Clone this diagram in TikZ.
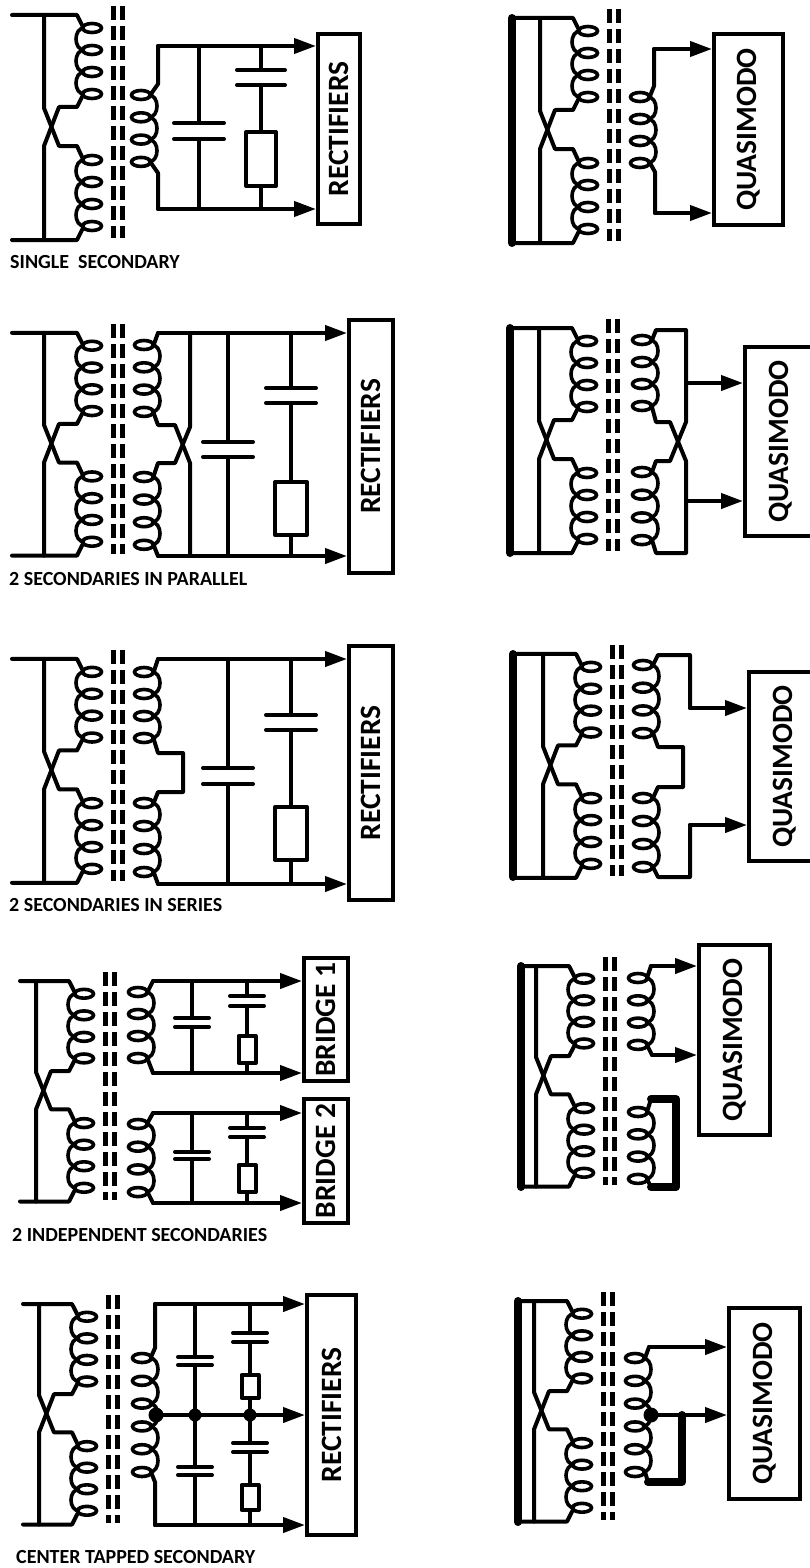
\documentclass[tikz,border=0pt]{standalone}
\usepackage{graphicx}
\usepackage{fontspec}
\setmainfont{Carlito}
\usepackage{tikz}
\usetikzlibrary{calc}
\usetikzlibrary{arrows.meta}

\newcommand{\coil}[5]{
  \foreach \i in {1,...,#4}{
    \draw[turn] (#1,{#2+(\i-1)*#3}) ellipse [x radius=9.5pt,y radius=4.5pt];
  }
  \foreach \i in {2,...,#4}{
    \draw[turn] ({#1+#5*7},{#2+(\i-2)*#3}) .. controls ({#1+#5*19},{#2+(\i-2)*#3-1}) and ({#1+#5*19},{#2+(\i-1)*#3+1}) .. ({#1+#5*7},{#2+(\i-1)*#3});
  }
}
\newcommand{\primary}[4]{
  \begin{scope}[shift={(#1,#2)},yscale=#3]
    \coil{92}{28}{22}{4}{-1}
    \coil{92}{160}{22}{4}{-1}
    \draw[wire] (#4,15) -- (77,15) -- (83,27);
    \draw[wire] (#4,240) -- (77,240) -- (83,228);
    \draw[wire] (44,15) -- (44,108) -- (59,146) -- (77,146) -- (83,159);
    \draw[wire] (44,240) -- (44,146) -- (59,107) -- (77,107) -- (83,95);
    \draw[laminate] (113,6) -- (113,238);
    \draw[laminate] (122,6) -- (122,238);
  \end{scope}
}
\newcommand{\capleg}[6]{
  \draw[wire] (#1,#2) -- (#1,#3) (#1,#4) -- (#1,#5);
  \draw[wire] ({#1-#6},#3) -- ({#1+#6},#3) ({#1-#6},#4) -- ({#1+#6},#4);
}
\newcommand{\resleg}[4]{
  \draw[wire] ({#1-#2},#3) rectangle ({#1+#2},#4);
}

\begin{document}
\begin{tikzpicture}[x=1pt,y=-1pt]
\tikzstyle{wire}=[line width=4pt,line cap=round,line join=round]
\tikzstyle{turn}=[line width=3.6pt]
\tikzstyle{laminate}=[line width=5pt,dash pattern=on 14pt off 6pt]
\tikzstyle{feed}=[wire,-{Triangle[length=22pt,width=15pt]}]
\tikzstyle{busbar}=[line width=8pt,line cap=round]
\tikzstyle{shortbar}=[line width=8pt,line cap=round,line join=round]
\tikzstyle{box}=[rectangle,draw,line width=4pt,inner sep=0pt,font=\bfseries\fontsize{29.5}{30}\selectfont]
\tikzstyle{caption}=[anchor=west,inner sep=0pt,font=\bfseries\fontsize{20}{22}\selectfont]
\tikzstyle{dot}=[circle,fill=black,inner sep=0pt,minimum size=15pt]
\useasboundingbox (0,0) rectangle (809,1568);

\node[box,minimum width=42pt,minimum height=190pt] at(339, 129) (rect1) {\rotatebox{90}{RECTIFIERS}};
\node[box,minimum width=44pt,minimum height=253pt] at(371, 446.5) (rect2) {\rotatebox{90}{RECTIFIERS}};
\node[box,minimum width=44pt,minimum height=254pt] at(371, 773) (rect3) {\rotatebox{90}{RECTIFIERS}};
\node[box,minimum width=44pt,minimum height=123pt] at(326, 1019.5) (bridge1) {\rotatebox{90}{BRIDGE 1}};
\node[box,minimum width=44pt,minimum height=124pt] at(326, 1161) (bridge2) {\rotatebox{90}{BRIDGE 2}};
\node[box,minimum width=49pt,minimum height=240pt] at(331.5, 1415) (rect5) {\rotatebox{90}{RECTIFIERS}};
\node[box,minimum width=69pt,minimum height=191pt] at(748.5, 129.5) (quasi1) {\rotatebox{90}{QUASIMODO}};
\node[box,minimum width=71pt,minimum height=189pt] at(780.5, 441.5) (quasi2) {\rotatebox{90}{QUASIMODO}};
\node[box,minimum width=71pt,minimum height=189pt] at(784.5, 766.5) (quasi3) {\rotatebox{90}{QUASIMODO}};
\node[box,minimum width=71pt,minimum height=190pt] at(734.5, 1040) (quasi4) {\rotatebox{90}{QUASIMODO}};
\node[box,minimum width=71pt,minimum height=191pt] at(764.5, 1403.5) (quasi5) {\rotatebox{90}{QUASIMODO}};

\node[caption] at(10, 262) (single) {SINGLE\ \ SECONDARY};
\node[caption] at(9, 579) (parallel) {2 SECONDARIES IN PARALLEL};
\node[caption] at(9, 905) (series) {2 SECONDARIES IN SERIES};
\node[caption] at(12, 1235) (independent) {2 INDEPENDENT SECONDARIES};
\node[caption] at(16, 1557) (tapped) {CENTER TAPPED SECONDARY};

\primary{0}{0}{1}{12}
\coil{141}{95}{22.3}{4}{1}
\coordinate (a1) at (158,46);
\coordinate (a2) at (158,209);
\draw[wire] (a1) -- (158,84) -- (151,94);
\draw[wire] (a2) -- (158,173) -- (151,163);
\draw[feed] (a1) -- (rect1.west |- a1);
\draw[feed] (a2) -- (rect1.west |- a2);
\capleg{199}{46}{123}{139}{209}{25}
\capleg{261}{46}{70}{85}{132}{24}
\resleg{261}{15}{132}{186}
\draw[wire] (261,186) -- (261,209);

\primary{0}{318}{0.99}{12}
\coil{144}{345}{22.3}{4}{1}
\coil{144}{477}{22.6}{4}{1}
\coordinate (b1) at (158,333);
\coordinate (b2) at (158,556);
\draw[wire] (154,344) -- (b1);
\draw[wire] (154,546) -- (b2);
\draw[feed] (b1) -- (rect2.west |- b1);
\draw[feed] (b2) -- (rect2.west |- b2);
\draw[wire] (190,333) -- (190,427) -- (175,463) -- (158,463) -- (154,475);
\draw[wire] (190,556) -- (190,463) -- (175,425) -- (158,425) -- (154,414);
\capleg{228}{333}{442}{457}{556}{25}
\capleg{291}{333}{388}{403}{482}{25}
\resleg{291}{16}{482}{535}
\draw[wire] (291,535) -- (291,556);

\primary{0}{644}{0.995}{12}
\coil{144}{672}{22}{4}{1}
\coil{144}{803}{23}{4}{1}
\coordinate (c1) at (158,659);
\coordinate (c2) at (158,884);
\draw[wire] (154,671) -- (c1);
\draw[wire] (154,873) -- (c2);
\draw[feed] (c1) -- (rect3.west |- c1);
\draw[feed] (c2) -- (rect3.west |- c2);
\draw[wire] (154,740) -- (158,753) -- (183,753) -- (183,792) -- (158,792) -- (154,802);
\capleg{228}{659}{768}{784}{884}{25}
\capleg{291}{659}{715}{730}{807}{25}
\resleg{291}{16}{807}{860}
\draw[wire] (291,860) -- (291,884);

\primary{-8}{966.3}{0.98}{28}
\coil{138}{992}{22}{4}{1}
\coil{138}{1124}{22.7}{4}{1}
\coordinate (d1) at (153,981);
\coordinate (d2) at (153,1073);
\coordinate (d3) at (153,1113);
\coordinate (d4) at (153,1203);
\draw[wire] (148,991) -- (d1);
\draw[wire] (148,1060) -- (d2);
\draw[wire] (148,1122) -- (d3);
\draw[wire] (148,1193) -- (d4);
\draw[feed] (d1) -- (bridge1.west |- d1);
\draw[feed] (d2) -- (bridge1.west |- d2);
\draw[feed] (d3) -- (bridge2.west |- d3);
\draw[feed] (d4) -- (bridge2.west |- d4);
\capleg{192}{981}{1018}{1027}{1073}{17}
\capleg{247}{981}{996}{1006}{1036}{17}
\resleg{247}{8.5}{1036}{1063}
\draw[wire] (247,1063) -- (247,1073);
\capleg{192}{1113}{1152}{1159}{1203}{17}
\capleg{247}{1113}{1128}{1137}{1165}{17}
\resleg{247}{8.5}{1165}{1192}
\draw[wire] (247,1192) -- (247,1203);

\primary{-5}{1289.3}{0.98}{28}
\coil{142}{1358}{22.8}{6}{1}
\node[dot] at(156, 1415) (tap1) {};
\node[dot,minimum size=13pt] at(195, 1415) (tap2) {};
\node[dot,minimum size=13pt] at(250, 1415) (tap3) {};
\coordinate (e1) at (155,1304);
\coordinate (e2) at (155,1525);
\draw[wire] (e1) -- (155,1348) -- (151,1357);
\draw[wire] (e2) -- (155,1482) -- (151,1472);
\draw[feed] (e1) -- (rect5.west |- e1);
\draw[feed] (tap1) -- (rect5.west |- tap1);
\draw[feed] (e2) -- (rect5.west |- e2);
\capleg{195}{1304}{1357}{1365}{1415}{17}
\capleg{195}{1415}{1467}{1475}{1525}{17}
\capleg{250}{1304}{1333}{1342}{1375}{17}
\resleg{250}{8.5}{1375}{1398}
\draw[wire] (250,1398) -- (tap3);
\capleg{250}{1415}{1443}{1452}{1485}{17}
\resleg{250}{8.5}{1485}{1510}
\draw[wire] (250,1510) -- (250,1525);

\primary{496}{3}{1}{16}
\draw[busbar] (512,18) -- (512,243);
\coil{640}{97}{22}{4}{1}
\coordinate (f1) at (654,49);
\coordinate (f2) at (655,213);
\draw[wire] (f1) -- (654,86) -- (650,96);
\draw[wire] (f2) -- (655,172) -- (650,163);
\draw[feed] (f1) -- (quasi1.west |- f1);
\draw[feed] (f2) -- (quasi1.west |- f2);

\primary{495}{313}{1}{15}
\draw[busbar] (510,328) -- (510,553);
\coil{642}{340}{22}{4}{1}
\coil{642}{472}{22.7}{4}{1}
\draw[wire] (652,340) -- (656,330) -- (686,330) -- (686,422) -- (670,461) -- (656,461) -- (652,472);
\draw[wire] (652,540) -- (656,553) -- (686,553) -- (686,461) -- (670,422) -- (656,422) -- (652,407);
\coordinate (g1) at (686,383);
\coordinate (g2) at (686,501);
\draw[feed] (g1) -- (quasi2.west |- g1);
\draw[feed] (g2) -- (quasi2.west |- g2);

\primary{499}{639}{0.995}{14}
\draw[busbar] (513,654) -- (513,877);
\coil{643}{665}{22.7}{4}{1}
\coil{643}{798}{23}{4}{1}
\coordinate (h1) at (690,708);
\coordinate (h2) at (690,825);
\draw[wire] (653,665) -- (658,655) -- (690,655) -- (h1);
\draw[wire] (653,867) -- (658,877) -- (690,877) -- (h2);
\draw[wire] (653,733) -- (658,747) -- (683,747) -- (683,787) -- (658,787) -- (653,798);
\draw[feed] (h1) -- (quasi3.west |- h1);
\draw[feed] (h2) -- (quasi3.west |- h2);

\primary{492}{951.3}{0.98}{29}
\draw[busbar] (521,966) -- (521,1187);
\coil{638}{978}{22.3}{4}{1}
\coil{638}{1112}{22.3}{4}{1}
\coordinate (k1) at (651,966);
\coordinate (k2) at (652,1055);
\draw[wire] (647,978) -- (k1);
\draw[wire] (647,1045) -- (k2);
\draw[feed] (k1) -- (quasi4.west |- k1);
\draw[feed] (k2) -- (quasi4.west |- k2);
\draw[shortbar] (651,1099) -- (676,1099) -- (676,1187) -- (651,1187);
\draw[wire] (647,1112) -- (651,1099);
\draw[wire] (647,1179) -- (651,1187);

\primary{490}{1286.3}{0.98}{28}
\draw[busbar] (518,1301) -- (518,1522);
\coil{635}{1358}{22.8}{6}{1}
\node[dot] at(651, 1415) (tap4) {};
\coordinate (m1) at (649,1347);
\draw[wire] (645,1358) -- (m1);
\draw[feed] (m1) -- (quasi5.west |- m1);
\draw[feed] (tap4) -- (quasi5.west |- tap4);
\draw[wire] (645,1472) -- (648,1482);
\draw[shortbar] (682,1415) -- (682,1482) -- (648,1482);
\end{tikzpicture}
\end{document}
